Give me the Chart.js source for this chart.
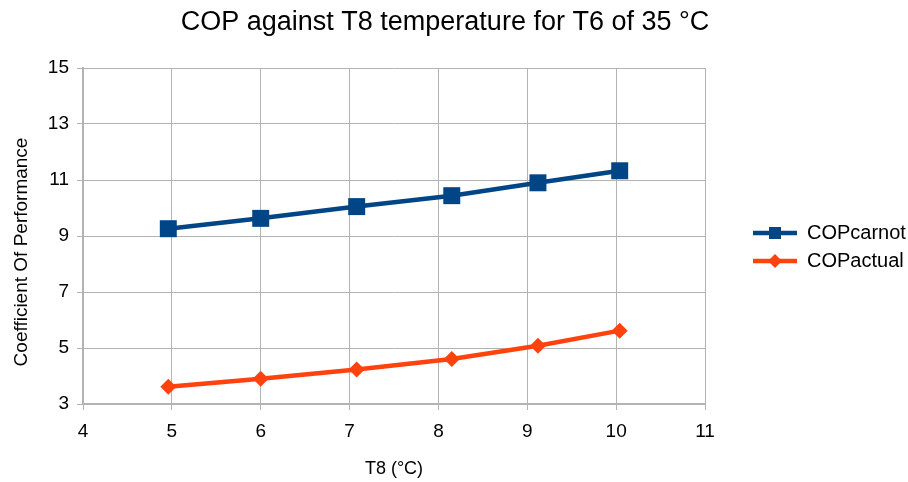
<!DOCTYPE html>
<html>
<head>
<meta charset="utf-8">
<script src="https://cdn.jsdelivr.net/npm/chart.js@4"></script>
<style>
  html, body { margin: 0; padding: 0; background: #fff; }
  #wrap { width: 908px; height: 482px; }
</style>
</head>
<body>
<div id="wrap"><canvas id="copChart" width="908" height="482"></canvas></div>
<script>
(function () {

    // T8 temperature (°C) for each measurement
    var t8 = [4.96, 6.0, 7.08, 8.15, 9.12, 10.04];
    var copCarnot = [9.26, 9.63, 10.05, 10.44, 10.90, 11.33];
    var copActual = [3.62, 3.90, 4.23, 4.61, 5.08, 5.62];

    var chartTitle = "COP against T8 temperature for T6 of 35 °C";
    var yTitle = "Coefficient Of Performance";

    var blue = "#004586";
    var orange = "#ff420e";
    var fontFamily = "'Liberation Sans', Arial, sans-serif";

    // legend symbol: a short line with the marker in the middle (left part kept empty as a gap)
    function legendSymbol(color, shape) {
        var c = document.createElement("canvas");
        c.width = 84;
        c.height = 14;
        var ctx = c.getContext("2d");
        ctx.strokeStyle = color;
        ctx.lineWidth = 4.5;
        ctx.beginPath();
        ctx.moveTo(40, 7);
        ctx.lineTo(84, 7);
        ctx.stroke();
        ctx.fillStyle = color;
        if (shape === "rect") {
            ctx.fillRect(56, 1, 12, 12);
        } else {
            ctx.beginPath();
            ctx.moveTo(62, 0);
            ctx.lineTo(69, 7);
            ctx.lineTo(62, 14);
            ctx.lineTo(55, 7);
            ctx.closePath();
            ctx.fill();
        }
        return c;
    }

    function toPoints(xs, ys) {
        return xs.map(function (x, i) { return {x: x, y: ys[i]}; });
    }

    // the chart title is centred over the whole picture minus a small right margin,
    // and the y title sits a bit below the middle of the plot, so both are drawn here
    var textPlugin = {
        id: "textPlugin",
        afterDraw: function (chart) {
            var ctx = chart.ctx;
            ctx.save();
            ctx.fillStyle = "#000";
            ctx.textAlign = "center";
            ctx.textBaseline = "middle";
            ctx.font = "27px " + fontFamily;
            ctx.fillText(chartTitle, 445, 23);
            ctx.translate(22, 252);
            ctx.rotate(-Math.PI / 2);
            ctx.font = "19px " + fontFamily;
            ctx.fillText(yTitle, 0, 0);
            ctx.restore();
        }
    };

    Chart.defaults.font.family = fontFamily;
    Chart.defaults.color = "#000";

    var symbols = [legendSymbol(blue, "rect"), legendSymbol(orange, "diamond")];

    new Chart(document.getElementById("copChart").getContext("2d"), {
        type: "line",
        data: {
            datasets: [
                {
                    label: "COPcarnot",
                    data: toPoints(t8, copCarnot),
                    borderColor: blue,
                    backgroundColor: blue,
                    borderWidth: 4.5,
                    pointStyle: "rect",
                    pointRadius: 12,
                    pointBorderWidth: 0,
                    tension: 0
                },
                {
                    label: "COPactual",
                    data: toPoints(t8, copActual),
                    borderColor: orange,
                    backgroundColor: orange,
                    borderWidth: 4.5,
                    pointStyle: "rectRot",
                    pointRadius: 8,
                    pointBorderWidth: 0,
                    tension: 0
                }
            ]
        },
        plugins: [textPlugin],
        options: {
            responsive: false,
            animation: false,
            layout: {padding: {top: 68, right: 0, bottom: 0, left: 0}},
            plugins: {
                title: {display: false},
                legend: {
                    position: "right",
                    align: "start",
                    maxWidth: 203,
                    // empty title used only as a spacer above the entries
                    title: {display: true, text: " ", padding: {top: 135, bottom: 0}, font: {size: 10}},
                    labels: {
                        usePointStyle: true,
                        pointStyleWidth: 84,
                        padding: 8,
                        font: {size: 20},
                        color: "#000",
                        generateLabels: function (chart) {
                            return chart.data.datasets.map(function (ds, i) {
                                return {
                                    text: ds.label,
                                    pointStyle: symbols[i],
                                    fillStyle: ds.borderColor,
                                    strokeStyle: ds.borderColor,
                                    lineWidth: 0,
                                    datasetIndex: i,
                                    fontColor: "#000"
                                };
                            });
                        }
                    }
                },
                tooltip: {enabled: false}
            },
            scales: {
                x: {
                    type: "linear",
                    min: 4,
                    max: 11,
                    afterFit: function (scale) { scale.height = 78; },
                    ticks: {stepSize: 1, font: {size: 19}, color: "#000", padding: 10},
                    grid: {color: "#b3b3b3", tickLength: 6, lineWidth: 1},
                    border: {color: "#b3b3b3", width: 2},
                    title: {display: true, text: "T8 (°C)", font: {size: 18}, color: "#000", padding: {top: 2, bottom: 2}}
                },
                y: {
                    min: 3,
                    max: 15,
                    afterFit: function (scale) { scale.width = 83; },
                    ticks: {stepSize: 2, font: {size: 19}, color: "#000", padding: 8},
                    grid: {color: "#b3b3b3", tickLength: 6, lineWidth: 1},
                    border: {color: "#b3b3b3", width: 2},
                    title: {display: false}
                }
            }
        }
    });

})();
</script>
</body>
</html>
